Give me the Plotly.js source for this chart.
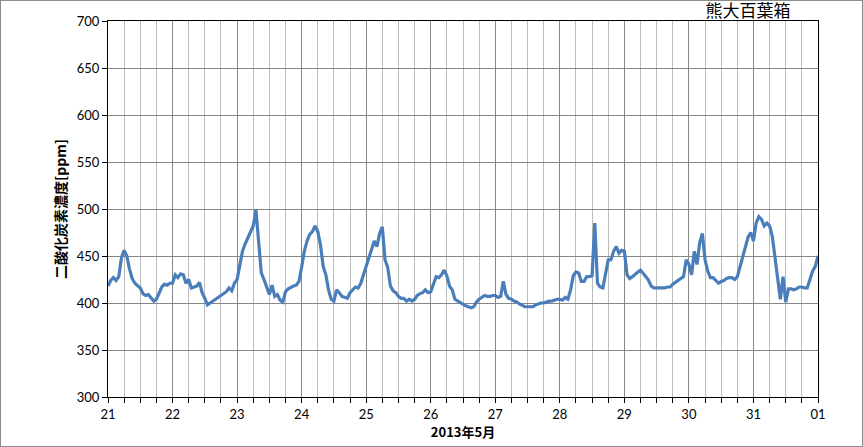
<!DOCTYPE html>
<html><head><meta charset="utf-8">
<script src="https://cdn.plot.ly/plotly-3.0.1.min.js"></script>
<style>
html,body{margin:0;padding:0;background:#fff;}
#wrap{position:relative;width:863px;height:447px;}
#chart{width:863px;height:447px;}
#frame{position:absolute;left:0;top:0;width:863px;height:447px;box-sizing:border-box;border:1px solid #8c8c8c;pointer-events:none;}
</style></head>
<body>
<div id="wrap"><div id="chart"></div><div id="frame"></div></div>
<script>
// Hourly CO2 concentration [ppm], May 21 00:00 .. June 1 00:00 (2013)
const may21 = [418,424,427,424,428,448,456,450,436,426,421,418,416,410,408,409,405,402,404,411,417,420,419,421];
const may22 = [421,430,427,431,430,421,425,416,417,418,422,411,405,398,400,402,404,405,407,409,412,416,413,421];
const may23 = [425,440,455,463,470,476,482,499,465,432,425,416,409,419,407,409,403,401,412,415,417,418,419,423];
const may24 = [438,455,466,473,476,482,476,462,439,430,414,404,402,414,411,407,406,405,411,414,417,416,421,430];
const may25 = [439,450,457,466,460,474,481,446,438,418,413,411,407,405,405,402,404,402,404,408,410,411,414,411];
const may26 = [412,420,428,427,430,435,429,418,414,404,402,401,398,397,396,395,396,401,404,406,408,407,407,408];
const may27 = [408,406,407,423,409,405,404,402,401,399,397,396,396,396,396,398,399,400,400,401,402,402,403,404];
const may28 = [404,403,406,404,414,429,433,432,423,423,428,428,429,485,421,417,416,430,446,446,455,460,453,456];
const may29 = [455,430,426,428,431,433,435,432,428,424,418,416,416,416,416,416,417,417,420,422,424,426,428,446];
const may30 = [441,430,455,441,464,474,446,434,427,427,424,421,423,424,426,427,427,425,428,439,449,462,470,475];
const may31 = [466,485,492,489,482,485,482,471,448,425,404,428,401,415,415,414,415,417,417,416,416,425,434,439];
const jun01 = [450];

const dayLabels = ['21','22','23','24','25','26','27','28','29','30','31','01'];
const yTicks = [300,350,400,450,500,550,600,650,700];

const co2 = [].concat(may21,may22,may23,may24,may25,may26,may27,may28,may29,may30,may31,jun01);
const hours = co2.map((v,i)=>i);
const dayTickVals = dayLabels.map((d,i)=>i*24);

const trace = {
  x: hours, y: co2, type:'scatter', mode:'lines',
  line:{color:'#4a7ebb', width:3.2}, hoverinfo:'skip'
};

const layout = {
  width:863, height:447,
  margin:{l:108, r:45, t:21, b:50},
  paper_bgcolor:'#ffffff', plot_bgcolor:'#ffffff',
  showlegend:false,
  font:{family:'Lato, "Liberation Sans", sans-serif', size:13, color:'#000'},
  title:{text:'熊大百葉箱', font:{family:'"Noto Sans CJK JP", sans-serif', size:17, color:'#000'},
         xref:'container', yref:'container', x:748/863, xanchor:'center', y:1-11.5/447, yanchor:'middle'},
  xaxis:{
    range:[0,264], tickmode:'array', tickvals:dayTickVals, ticktext:dayLabels,
    showline:true, linecolor:'#000', linewidth:1, mirror:true,
    ticks:'outside', ticklen:5, tickcolor:'#000', tickwidth:1,
    showgrid:true, gridcolor:'#868686', gridwidth:1,
    zeroline:false,
    minor:{tickmode:'linear', tick0:0, dtick:6, showgrid:true, gridcolor:'#bcbcbc', gridwidth:1,
           ticks:'outside', ticklen:5, tickcolor:'#000'},
    tickfont:{family:'Lato, "Liberation Sans", sans-serif', size:13, color:'#000'},
    title:{text:'2013年5月', font:{family:'"Noto Sans CJK JP", sans-serif', size:13, color:'#000', weight:'bold'}, standoff:5},
    automargin:false, fixedrange:true
  },
  yaxis:{
    range:[300,700], tickmode:'array', tickvals:yTicks,
    showline:true, linecolor:'#000', linewidth:1, mirror:true,
    ticks:'outside', ticklen:5, tickcolor:'#000', tickwidth:1,
    showgrid:true, gridcolor:'#868686', gridwidth:1, zeroline:false,
    tickfont:{family:'Lato, "Liberation Sans", sans-serif', size:13, color:'#000'},
    title:{text:'二酸化炭素濃度[ppm]', font:{family:'"Noto Sans CJK JP", sans-serif', size:14, color:'#000', weight:'bold'}, standoff:6},
    automargin:false, fixedrange:true
  }
};

Plotly.newPlot('chart',[trace],layout,{staticPlot:true, displayModeBar:false});
</script>
</body></html>
